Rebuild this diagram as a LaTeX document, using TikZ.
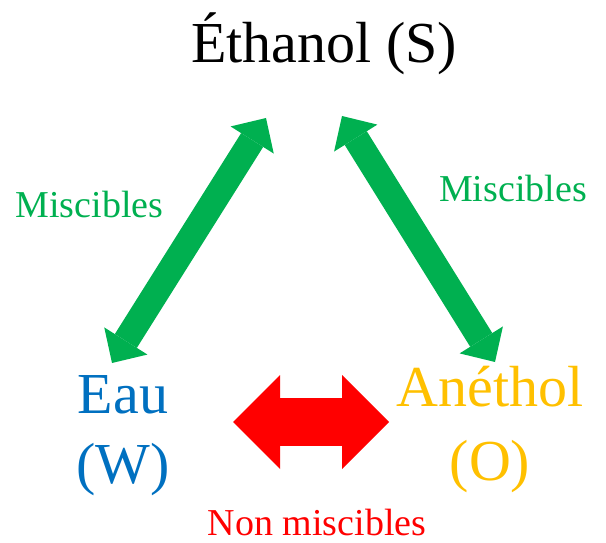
\documentclass[tikz,border=0pt]{standalone}
\usepackage{fontspec}
\setmainfont{Liberation Serif}
\usetikzlibrary{arrows.meta}
\definecolor{vert}{HTML}{00B050}
\definecolor{bleu}{HTML}{0070C0}
\definecolor{jaune}{HTML}{FFC000}
\definecolor{rouge}{HTML}{FF0000}
\tikzset{
  grand/.style={font=\fontsize{58}{70}\selectfont, inner sep=0pt, align=center, anchor=base},
  petit/.style={font=\fontsize{38}{44}\selectfont, inner sep=0pt, anchor=base},
  miscible/.style={vert, line width=26pt,
    {Triangle[length=26pt,width=51pt,line width=0pt]}-{Triangle[length=26pt,width=51pt,line width=0pt]}},
  nonmiscible/.style={rouge, line width=48pt,
    {Triangle[length=47pt,width=94pt,line width=0pt]}-{Triangle[length=47pt,width=94pt,line width=0pt]}}
}
\begin{document}
\begin{tikzpicture}[x=1pt,y=1pt]
  \useasboundingbox (0,0) rectangle (606,542);
%Composes
    \node[grand] (ethanol) at (324,479) {Éthanol (S)};
    \node[grand, bleu] (eau) at (123,59) {Eau\\(W)};
    \node[grand, jaune] (anethol) at (490,62) {Anéthol\\[4pt](O)};

%Etiquettes
    \node[petit, vert] (miscG) at (89.5,324) {Miscibles};
    \node[petit, vert] (miscD) at (513,340) {Miscibles};
    \node[petit, rouge] (nonmisc) at (317,7) {Non miscibles};

%Fleches
    \draw[miscible] ([shift={(-11,120)}]eau.base) -- ([shift={(-58,-55)}]ethanol.base);
    \draw[miscible] ([shift={(5,118)}]anethol.base) -- ([shift={(18,-53)}]ethanol.base);
    \draw[nonmiscible] ([shift={(110,61)}]eau.base) -- ([shift={(-101,58)}]anethol.base);

\end{tikzpicture}
\end{document}
